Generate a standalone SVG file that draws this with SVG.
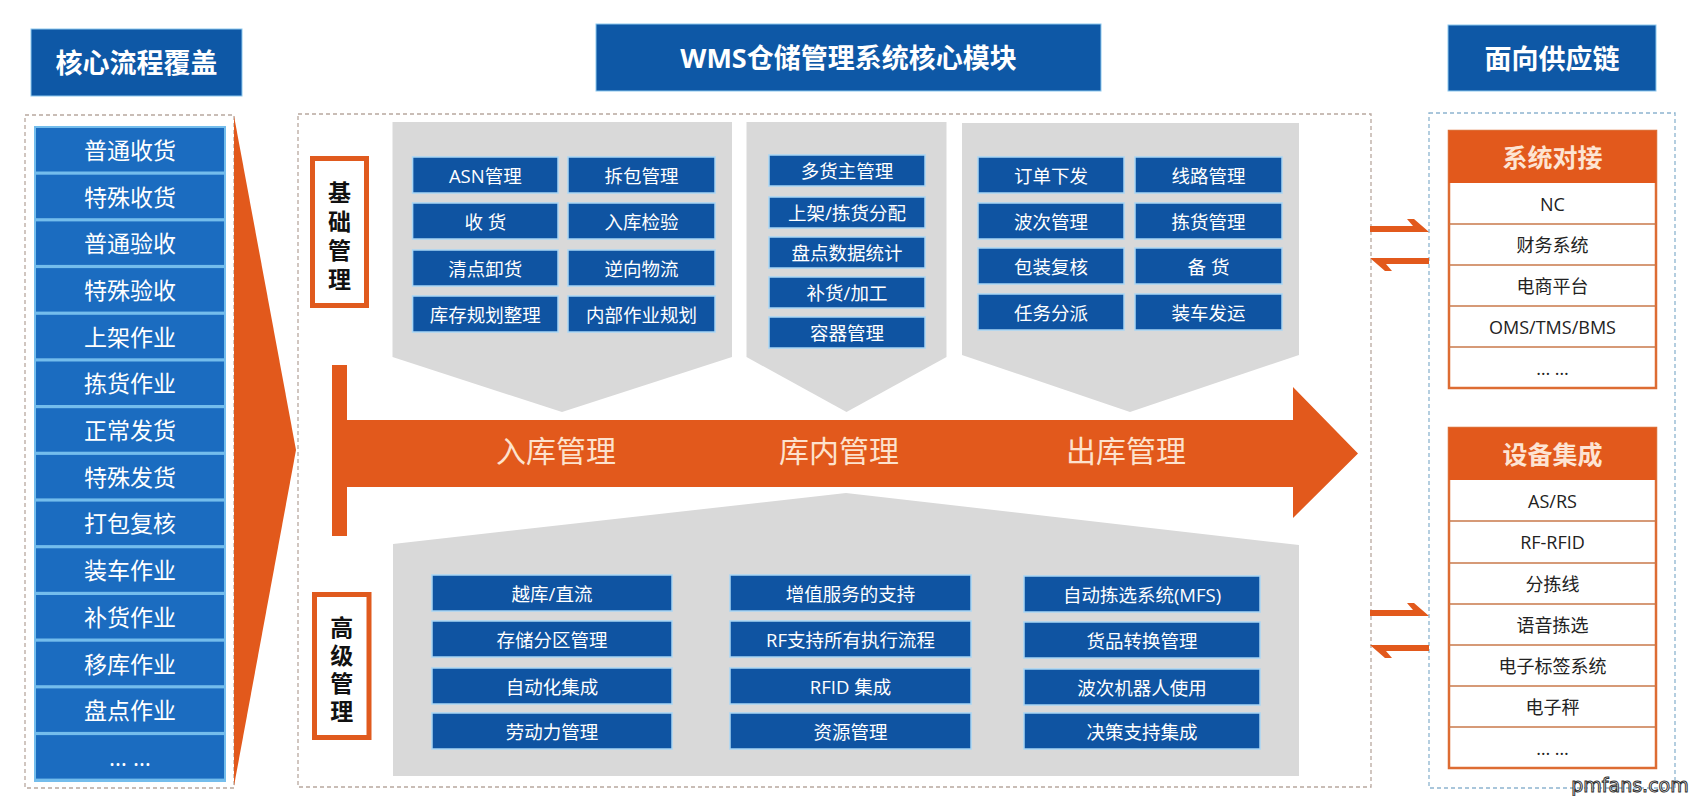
<svg xmlns="http://www.w3.org/2000/svg" width="1692" height="796" viewBox="0 0 1692 796">
<style>
.t{font-family:"Open Sans","Noto Sans CJK SC",sans-serif;text-anchor:middle;dominant-baseline:central}
.title{fill:#fff;font-size:27px;font-weight:bold}
.hdr{fill:#0e58a6;stroke:#8cc8ee;stroke-width:1}
.li{fill:#1b6cc0}
.lit{fill:#fff;font-size:23px}
.mod{fill:#0f54a2;stroke:#a9d6f5;stroke-width:1.5}
.modt{fill:#fff;font-size:18.5px}
.gray{fill:#d9d9d9}
.vlab{fill:#fff;stroke:#e05a1e;stroke-width:5}
.vt{fill:#111;font-size:23px;font-weight:bold;writing-mode:vertical-rl;text-anchor:middle;dominant-baseline:central;font-family:"Noto Sans CJK SC",sans-serif}
.orange{fill:#e2591c}
.arrt{fill:#fde2cd;font-size:30px}
.rbox{fill:#fff;stroke:#dd6c33;stroke-width:2.5}
.rhead{fill:#e2591c}
.rht{fill:#fde4d3;font-size:25px;font-weight:bold}
.rt{fill:#222;font-size:18px}
.sep{stroke:#c9784a;stroke-width:1.5}
.dash{fill:none;stroke:#b8a89f;stroke-width:1.3;stroke-dasharray:4 3}
.dashb{fill:none;stroke:#8db4cf;stroke-width:1.3;stroke-dasharray:4 3}
.harp{fill:#e2591c}
</style>
<rect width="1692" height="796" fill="#fff"/>

<!-- Left column -->
<g id="left-title">
<rect class="hdr" x="31" y="29" width="211" height="67"/>
<text class="t title" x="136.5" y="62.5">核心流程覆盖</text>
</g>
<rect class="dash" x="25" y="115" width="209" height="673"/>
<g id="left-list">
<rect x="34" y="126" width="192" height="656" fill="#74bdec"/>
<rect class="li" x="36" y="128" width="188" height="43.5"/><text class="t lit" x="130" y="149.8">普通收货</text>
<rect class="li" x="36" y="174.7" width="188" height="43.5"/><text class="t lit" x="130" y="196.5">特殊收货</text>
<rect class="li" x="36" y="221.4" width="188" height="43.5"/><text class="t lit" x="130" y="243.2">普通验收</text>
<rect class="li" x="36" y="268.1" width="188" height="43.5"/><text class="t lit" x="130" y="289.9">特殊验收</text>
<rect class="li" x="36" y="314.8" width="188" height="43.5"/><text class="t lit" x="130" y="336.6">上架作业</text>
<rect class="li" x="36" y="361.5" width="188" height="43.5"/><text class="t lit" x="130" y="383.3">拣货作业</text>
<rect class="li" x="36" y="408.2" width="188" height="43.5"/><text class="t lit" x="130" y="430">正常发货</text>
<rect class="li" x="36" y="454.9" width="188" height="43.5"/><text class="t lit" x="130" y="476.7">特殊发货</text>
<rect class="li" x="36" y="501.6" width="188" height="43.5"/><text class="t lit" x="130" y="523.4">打包复核</text>
<rect class="li" x="36" y="548.3" width="188" height="43.5"/><text class="t lit" x="130" y="570.1">装车作业</text>
<rect class="li" x="36" y="595" width="188" height="43.5"/><text class="t lit" x="130" y="616.8">补货作业</text>
<rect class="li" x="36" y="641.7" width="188" height="43.5"/><text class="t lit" x="130" y="663.5">移库作业</text>
<rect class="li" x="36" y="688.4" width="188" height="43.5"/><text class="t lit" x="130" y="710.2">盘点作业</text>
<rect class="li" x="36" y="735.1" width="188" height="43.5"/><text class="t lit" x="130" y="756.9">… …</text>
</g>
<g id="left-funnel">
<polygon class="orange" points="234,116 296,450 234,786"/>
</g>

<!-- Center -->
<g id="center-title">
<rect class="hdr" x="596" y="24" width="505" height="67"/>
<text class="t title" x="848.5" y="57.5">WMS仓储管理系统核心模块</text>
</g>
<rect class="dash" x="298" y="114" width="1073" height="673"/>

<g id="inbound-basic">
<polygon class="gray" points="392.5,122 732,122 732,357 562,412 392.5,357"/>
<rect class="mod" x="412.6" y="157" width="145.4" height="36"/><text class="t modt" x="485.3" y="175">ASN管理</text>
<rect class="mod" x="568" y="157" width="147" height="36"/><text class="t modt" x="641.5" y="175">拆包管理</text>
<rect class="mod" x="412.6" y="203" width="145.4" height="36"/><text class="t modt" x="485.3" y="221">收 货</text>
<rect class="mod" x="568" y="203" width="147" height="36"/><text class="t modt" x="641.5" y="221">入库检验</text>
<rect class="mod" x="412.6" y="250" width="145.4" height="36"/><text class="t modt" x="485.3" y="268">清点卸货</text>
<rect class="mod" x="568" y="250" width="147" height="36"/><text class="t modt" x="641.5" y="268">逆向物流</text>
<rect class="mod" x="412.6" y="296" width="145.4" height="36"/><text class="t modt" x="485.3" y="314">库存规划整理</text>
<rect class="mod" x="568" y="296" width="147" height="36"/><text class="t modt" x="641.5" y="314">内部作业规划</text>
</g>

<g id="inwarehouse-basic">
<polygon class="gray" points="746.5,122 946.5,122 946.5,357 846.5,412 746.5,357"/>
<rect class="mod" x="769" y="155" width="156" height="31"/><text class="t modt" x="847" y="170.5">多货主管理</text>
<rect class="mod" x="769" y="197" width="156" height="31"/><text class="t modt" x="847" y="212.5">上架/拣货分配</text>
<rect class="mod" x="769" y="237" width="156" height="31"/><text class="t modt" x="847" y="252.5">盘点数据统计</text>
<rect class="mod" x="769" y="277" width="156" height="31"/><text class="t modt" x="847" y="292.5">补货/加工</text>
<rect class="mod" x="769" y="317" width="156" height="31"/><text class="t modt" x="847" y="332.5">容器管理</text>
</g>

<g id="outbound-basic">
<polygon class="gray" points="962,123 1299,123 1299,355 1130,412 962,355"/>
<rect class="mod" x="978" y="157" width="146" height="36"/><text class="t modt" x="1051" y="175">订单下发</text>
<rect class="mod" x="1135" y="157" width="147" height="36"/><text class="t modt" x="1208.5" y="175">线路管理</text>
<rect class="mod" x="978" y="203" width="146" height="36"/><text class="t modt" x="1051" y="221">波次管理</text>
<rect class="mod" x="1135" y="203" width="147" height="36"/><text class="t modt" x="1208.5" y="221">拣货管理</text>
<rect class="mod" x="978" y="248" width="146" height="36"/><text class="t modt" x="1051" y="266">包装复核</text>
<rect class="mod" x="1135" y="248" width="147" height="36"/><text class="t modt" x="1208.5" y="266">备 货</text>
<rect class="mod" x="978" y="294" width="146" height="36"/><text class="t modt" x="1051" y="312">任务分派</text>
<rect class="mod" x="1135" y="294" width="147" height="36"/><text class="t modt" x="1208.5" y="312">装车发运</text>
</g>

<g id="basic-label">
<rect class="vlab" x="312.5" y="158.5" width="54" height="147"/>
<text class="vt" x="339.5" y="238.5" letter-spacing="6">基础管理</text>
</g>

<g id="flow-arrow">
<polygon class="orange" points="332,365 347,365 347,420 1293,420 1293,387 1358,453.5 1293,518 1293,487 347,487 347,536 332,536"/>
<text class="t arrt" x="556" y="450">入库管理</text>
<text class="t arrt" x="839" y="450">库内管理</text>
<text class="t arrt" x="1126" y="450">出库管理</text>
</g>

<g id="advanced">
<polygon class="gray" points="393,544 846,493 1299,545 1299,776 393,776"/>
<rect class="mod" x="432" y="575" width="240" height="36"/><text class="t modt" x="552" y="593">越库/直流</text>
<rect class="mod" x="432" y="621" width="240" height="36"/><text class="t modt" x="552" y="639">存储分区管理</text>
<rect class="mod" x="432" y="668" width="240" height="36"/><text class="t modt" x="552" y="686">自动化集成</text>
<rect class="mod" x="432" y="713" width="240" height="36"/><text class="t modt" x="552" y="731">劳动力管理</text>
<rect class="mod" x="730" y="575" width="241" height="36"/><text class="t modt" x="850.5" y="593">增值服务的支持</text>
<rect class="mod" x="730" y="621" width="241" height="36"/><text class="t modt" x="850.5" y="639">RF支持所有执行流程</text>
<rect class="mod" x="730" y="668" width="241" height="36"/><text class="t modt" x="850.5" y="686">RFID 集成</text>
<rect class="mod" x="730" y="713" width="241" height="36"/><text class="t modt" x="850.5" y="731">资源管理</text>
<rect class="mod" x="1024" y="576" width="236" height="36"/><text class="t modt" x="1142" y="594">自动拣选系统(MFS)</text>
<rect class="mod" x="1024" y="622" width="236" height="36"/><text class="t modt" x="1142" y="640">货品转换管理</text>
<rect class="mod" x="1024" y="669" width="236" height="36"/><text class="t modt" x="1142" y="687">波次机器人使用</text>
<rect class="mod" x="1024" y="713" width="236" height="36"/><text class="t modt" x="1142" y="731">决策支持集成</text>
</g>

<g id="advanced-label">
<rect class="vlab" x="314.5" y="594.5" width="54.5" height="143"/>
<text class="vt" x="341.7" y="671.5" letter-spacing="5">高级管理</text>
</g>

<!-- Right column -->
<g id="right-title">
<rect class="hdr" x="1448" y="25" width="208" height="66"/>
<text class="t title" x="1552" y="58">面向供应链</text>
</g>
<rect class="dashb" x="1429" y="113" width="246" height="675"/>

<g id="system-integration">
<rect class="rbox" x="1449" y="131" width="207" height="257"/>
<rect class="rhead" x="1449" y="131" width="207" height="52"/>
<text class="t rht" x="1552.5" y="157">系统对接</text>
<line class="sep" x1="1449" y1="224" x2="1656" y2="224"/>
<line class="sep" x1="1449" y1="265" x2="1656" y2="265"/>
<line class="sep" x1="1449" y1="306" x2="1656" y2="306"/>
<line class="sep" x1="1449" y1="347" x2="1656" y2="347"/>
<text class="t rt" x="1552.5" y="203.5">NC</text>
<text class="t rt" x="1552.5" y="244.5">财务系统</text>
<text class="t rt" x="1552.5" y="285.5">电商平台</text>
<text class="t rt" x="1552.5" y="326.5">OMS/TMS/BMS</text>
<text class="t rt" x="1552.5" y="367.5">… …</text>
</g>

<g id="device-integration">
<rect class="rbox" x="1449" y="428" width="207" height="340"/>
<rect class="rhead" x="1449" y="428" width="207" height="52"/>
<text class="t rht" x="1552.5" y="454">设备集成</text>
<line class="sep" x1="1449" y1="521" x2="1656" y2="521"/>
<line class="sep" x1="1449" y1="563" x2="1656" y2="563"/>
<line class="sep" x1="1449" y1="604" x2="1656" y2="604"/>
<line class="sep" x1="1449" y1="645" x2="1656" y2="645"/>
<line class="sep" x1="1449" y1="686" x2="1656" y2="686"/>
<line class="sep" x1="1449" y1="727" x2="1656" y2="727"/>
<text class="t rt" x="1552.5" y="500.5">AS/RS</text>
<text class="t rt" x="1552.5" y="542">RF-RFID</text>
<text class="t rt" x="1552.5" y="583.5">分拣线</text>
<text class="t rt" x="1552.5" y="624.5">语音拣选</text>
<text class="t rt" x="1552.5" y="665.5">电子标签系统</text>
<text class="t rt" x="1552.5" y="706.5">电子秤</text>
<text class="t rt" x="1552.5" y="747.5">… …</text>
</g>

<g id="connectors">
<path class="harp" d="M1370,226 L1413,226 L1407,219 L1414,219 L1429,232 L1370,232 Z"/>
<path class="harp" d="M1429,258 L1429,264 L1386,264 L1392,271 L1385,271 L1370,258 Z"/>
<path class="harp" d="M1370,610 L1413,610 L1407,603 L1414,603 L1429,616 L1370,616 Z"/>
<path class="harp" d="M1429,645 L1429,651 L1386,651 L1392,658 L1385,658 L1370,645 Z"/>
</g>

<text x="1630" y="792" font-family="DejaVu Sans, sans-serif" font-size="19" text-anchor="middle" fill="#fff" stroke="#333" stroke-width="1">pmfans.com</text>
</svg>
